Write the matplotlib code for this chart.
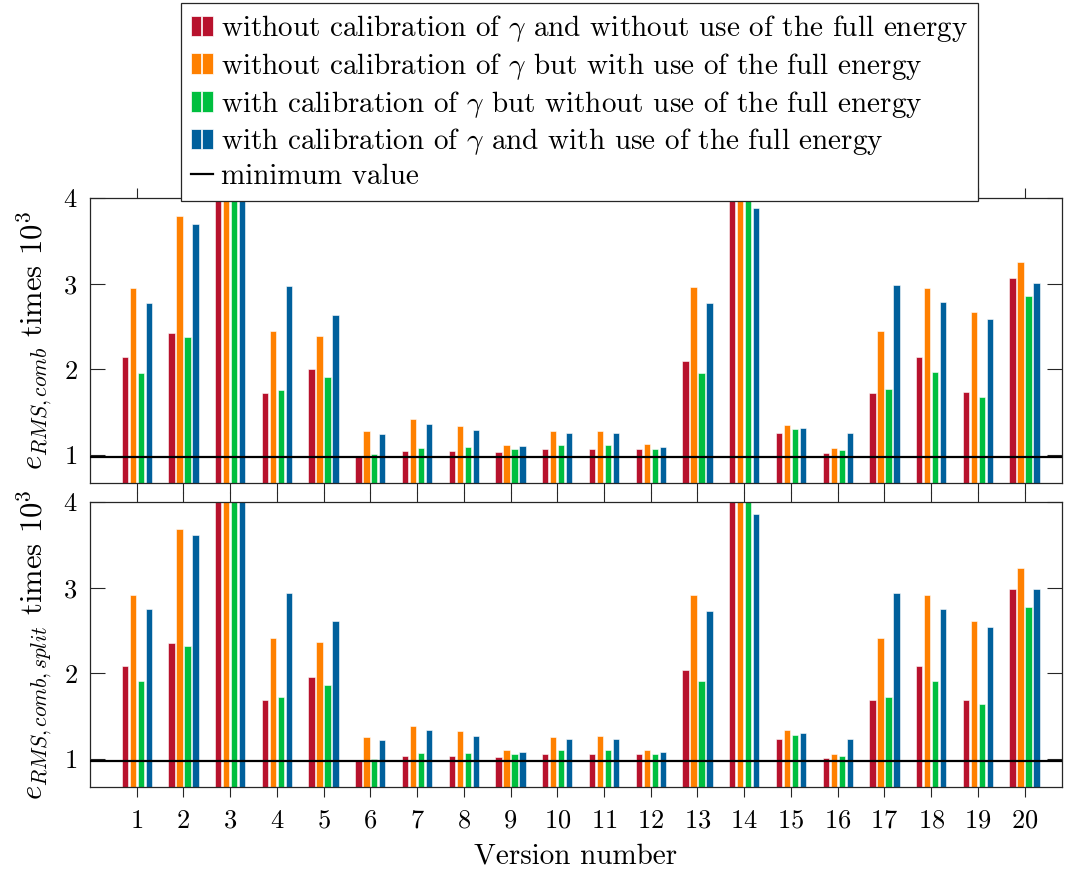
import matplotlib
matplotlib.use('Agg')
import numpy as np
import matplotlib.pyplot as plt
from matplotlib.patches import Patch
from matplotlib.lines import Line2D
from matplotlib.legend_handler import HandlerTuple

plt.rcParams['font.family'] = ['cmr10', 'DejaVu Serif']
plt.rcParams['mathtext.fontset'] = 'cm'
plt.rcParams['axes.formatter.use_mathtext'] = True

versions = np.arange(1, 21)

# values > 4 are cut off by the axis limit in the original
comb_nocal_nofull = [2.14, 2.42, 4.5, 1.72, 2.00, 0.988, 1.042, 1.042, 1.035, 1.073,
                     1.073, 1.070, 2.094, 4.5, 1.256, 1.027, 1.725, 2.14, 1.737, 3.072]
comb_nocal_full = [2.944, 3.786, 4.5, 2.45, 2.389, 1.283, 1.415, 1.338, 1.116, 1.279,
                   1.283, 1.124, 2.956, 4.5, 1.353, 1.081, 2.45, 2.944, 2.665, 3.25]
comb_cal_nofull = [1.96, 2.374, 4.5, 1.764, 1.91, 1.012, 1.081, 1.089, 1.07, 1.116,
                   1.116, 1.066, 1.958, 4.5, 1.303, 1.058, 1.768, 1.966, 1.682, 2.851]
comb_cal_full = [2.777, 3.70, 4.5, 2.974, 2.637, 1.244, 1.356, 1.291, 1.10, 1.256,
                 1.256, 1.093, 2.769, 3.879, 1.318, 1.256, 2.979, 2.781, 2.587, 3.006]

split_nocal_nofull = [2.091, 2.355, 4.5, 1.689, 1.954, 0.985, 1.035, 1.035, 1.02, 1.063,
                      1.063, 1.058, 2.044, 4.5, 1.238, 1.016, 1.689, 2.091, 1.694, 2.99]
split_nocal_full = [2.912, 3.69, 4.5, 2.418, 2.36, 1.262, 1.39, 1.323, 1.11, 1.262,
                    1.265, 1.11, 2.92, 4.5, 1.335, 1.063, 2.418, 2.912, 2.612, 3.224]
split_cal_nofull = [1.916, 2.316, 4.5, 1.729, 1.869, 1.0, 1.07, 1.074, 1.058, 1.105,
                    1.105, 1.055, 1.916, 4.5, 1.285, 1.04, 1.729, 1.916, 1.643, 2.78]
split_cal_full = [2.749, 3.613, 4.5, 2.932, 2.609, 1.226, 1.335, 1.273, 1.086, 1.238,
                  1.238, 1.078, 2.733, 3.855, 1.30, 1.238, 2.932, 2.749, 2.539, 2.986]

min_comb = 0.977
min_split = 0.977

colors = ['#b8122d', '#ff8000', '#00bf3f', '#00609c']
labels = [r'without calibration of $\gamma$ and without use of the full energy',
          r'without calibration of $\gamma$ but with use of the full energy',
          r'with calibration of $\gamma$ but without use of the full energy',
          r'with calibration of $\gamma$ and with use of the full energy']

fig = plt.figure(figsize=(10.67, 8.72), dpi=100)
ax1 = fig.add_axes([0.0843, 0.4461, 0.911, 0.3268])
ax2 = fig.add_axes([0.0843, 0.0975, 0.911, 0.3268])

step = 0.171
width = 0.135
offsets = [-1.5, -0.5, 0.5, 1.5]

def draw(ax, series, minval, ylabel):
    for k, vals in enumerate(series):
        ax.bar(versions + offsets[k] * step, vals, width=width, color=colors[k],
               edgecolor='white', linewidth=0.4)
    ax.axhline(minval, color='black', lw=1.6, zorder=5)
    ax.set_xlim(0.0, 20.8)
    ax.set_ylim(0.673, 4.0)
    ax.set_yticks([1, 2, 3, 4])
    ax.set_xticks(versions)
    ax.tick_params(axis='y', direction='in', length=11, right=True, labelsize=19,
                   pad=9, color='#262626')
    ax.tick_params(axis='x', direction='out', length=7, top=True, labelsize=19,
                   pad=9, color='#262626')
    for s in ax.spines.values():
        s.set_color('#262626')
        s.set_linewidth(0.9)
    ax.set_ylabel(ylabel, fontsize=22, labelpad=6)

draw(ax1, [comb_nocal_nofull, comb_nocal_full, comb_cal_nofull, comb_cal_full],
     min_comb, r'$e_{RMS,comb}$ times $10^3$')
draw(ax2, [split_nocal_nofull, split_nocal_full, split_cal_nofull, split_cal_full],
     min_split, r'$e_{RMS,comb,split}$ times $10^3$')
ax1.tick_params(axis='x', labelbottom=False)
ax2.set_xlabel('Version number', fontsize=21, labelpad=7)

handles = [(Patch(facecolor=c, edgecolor='white', lw=0.5),
            Patch(facecolor=c, edgecolor='white', lw=0.5)) for c in colors]
handles.append(Line2D([], [], color='black', lw=1.6))
leg = fig.legend(handles, labels + ['minimum value'], loc='upper left',
                 bbox_to_anchor=(0.1665, 1.0), fontsize=21,
                 handler_map={tuple: HandlerTuple(ndivide=None, pad=0.05)},
                 handlelength=0.75, handletextpad=0.3, labelspacing=0.23,
                 borderpad=0.35, borderaxespad=0.1, fancybox=False, framealpha=1,
                 edgecolor='#262626')
leg.get_frame().set_linewidth(0.9)

fig.savefig('out.png', dpi=100)
